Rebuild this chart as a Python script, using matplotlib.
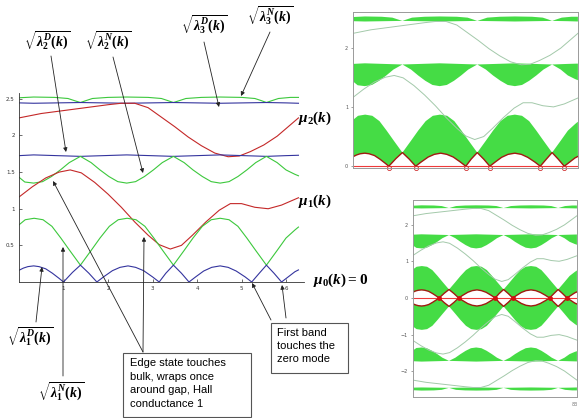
# band structure of the strip, edge states and bulk bands
import numpy as np
import matplotlib.pyplot as plt
from matplotlib.patches import Rectangle

plt.rcParams['mathtext.fontset'] = 'custom'
plt.rcParams['mathtext.it'] = 'Liberation Serif:italic:bold'
plt.rcParams['mathtext.rm'] = 'Liberation Serif:bold'
plt.rcParams['mathtext.bf'] = 'Liberation Serif:bold'

# sqrt(lambda_1^D(k)), lowest band, blue
k_d1 = [0, 0.1, 0.2, 0.33, 0.45, 0.6, 0.75, 0.9, 1.0, 1.2, 1.38, 1.57, 1.75, 1.9, 2.1, 2.27, 2.45, 2.62, 2.8, 3.0,
        3.15, 3.3, 3.47, 3.65, 3.82, 3.97, 4.15, 4.33, 4.52, 4.7, 4.88, 5.08, 5.23, 5.4, 5.56, 5.73, 5.9, 6.05, 6.2, 6.28]
d1 = [0.16, 0.19, 0.21, 0.22, 0.21, 0.18, 0.12, 0.05, 0.0, 0.13, 0.23, 0.12, 0.0, 0.07, 0.155, 0.2, 0.22, 0.2, 0.155, 0.07,
      0.0, 0.12, 0.23, 0.12, 0.0, 0.07, 0.15, 0.2, 0.22, 0.2, 0.15, 0.07, 0.0, 0.12, 0.23, 0.12, 0.0, 0.07, 0.14, 0.165]

# sqrt(lambda_1^N(k)), green
k_n1 = [0, 0.14, 0.34, 0.54, 0.74, 0.94, 1.14, 1.38, 1.62, 1.82, 2.03, 2.23, 2.43, 2.63, 2.83, 3.03,
        3.23, 3.47, 3.71, 3.91, 4.12, 4.32, 4.52, 4.72, 4.92, 5.12, 5.32, 5.56, 5.8, 6.0, 6.2, 6.28]
n1 = [0.78, 0.85, 0.87, 0.85, 0.76, 0.6, 0.43, 0.23, 0.43, 0.6, 0.76, 0.85, 0.87, 0.85, 0.76, 0.6,
      0.43, 0.23, 0.43, 0.6, 0.76, 0.85, 0.87, 0.85, 0.76, 0.6, 0.43, 0.23, 0.43, 0.6, 0.71, 0.75]

# sqrt(lambda_2^N(k)), green
k_n2 = [0, 0.13, 0.33, 0.53, 0.73, 0.93, 1.13, 1.38, 1.62, 1.82, 2.02, 2.22, 2.42, 2.62, 2.82, 3.02,
        3.22, 3.47, 3.71, 3.91, 4.12, 4.32, 4.52, 4.72, 4.92, 5.12, 5.32, 5.56, 5.8, 6.0, 6.2, 6.28]
n2 = [1.43, 1.365, 1.35, 1.37, 1.44, 1.53, 1.63, 1.715, 1.63, 1.53, 1.44, 1.37, 1.35, 1.37, 1.44, 1.53,
      1.63, 1.715, 1.63, 1.53, 1.44, 1.37, 1.35, 1.37, 1.44, 1.53, 1.63, 1.715, 1.63, 1.53, 1.47, 1.45]

# sqrt(lambda_2^D(k)), blue
k_d2 = [0, 0.33, 0.85, 1.38, 1.9, 2.42, 2.95, 3.47, 4.0, 4.52, 5.04, 5.56, 6.0, 6.28]
d2 = [1.725, 1.735, 1.725, 1.715, 1.725, 1.735, 1.725, 1.715, 1.725, 1.735, 1.725, 1.715, 1.725, 1.73]

# sqrt(lambda_3^D(k)), blue
k_d3 = [0, 0.33, 0.85, 1.38, 1.9, 2.42, 2.95, 3.47, 4.0, 4.52, 5.04, 5.56, 6.0, 6.28]
d3 = [2.445, 2.44, 2.445, 2.45, 2.445, 2.44, 2.445, 2.45, 2.445, 2.44, 2.445, 2.45, 2.445, 2.44]

# sqrt(lambda_3^N(k)), green
k_n3 = [0, 0.33, 0.8, 1.1, 1.25, 1.38, 1.5, 1.65, 2.0, 2.42, 2.9, 3.2, 3.35, 3.47, 3.6, 3.75,
        4.1, 4.52, 5.0, 5.3, 5.45, 5.56, 5.68, 5.83, 6.1, 6.28]
n3 = [2.515, 2.525, 2.52, 2.505, 2.475, 2.45, 2.475, 2.505, 2.52, 2.525, 2.52, 2.505, 2.475, 2.45, 2.475, 2.505,
      2.52, 2.525, 2.52, 2.505, 2.475, 2.45, 2.475, 2.505, 2.52, 2.52]

# edge states mu_1(k), mu_2(k), red
k_mu1 = [0, 0.3, 0.6, 0.9, 1.15, 1.4, 1.7, 2.0, 2.3, 2.6, 2.9, 3.15, 3.4, 3.65, 3.9, 4.2, 4.5, 4.75,
         5.0, 5.3, 5.6, 5.9, 6.28]
mu1 = [1.16, 1.30, 1.42, 1.50, 1.53, 1.49, 1.36, 1.20, 1.02, 0.82, 0.64, 0.51, 0.45, 0.50, 0.64, 0.82, 0.98, 1.07,
       1.07, 1.02, 1.00, 1.05, 1.15]
k_mu2 = [0, 0.5, 1.0, 1.5, 2.0, 2.3, 2.6, 2.9, 3.2, 3.5, 3.8, 4.1, 4.4, 4.7, 4.95, 5.2, 5.5, 5.8, 6.05, 6.28]
mu2 = [2.24, 2.30, 2.34, 2.38, 2.42, 2.44, 2.44, 2.38, 2.25, 2.12, 1.98, 1.86, 1.76, 1.71, 1.72, 1.78, 1.87, 1.99,
       2.12, 2.24]

x_ticks = [1, 2, 3, 4, 5, 6]
y_ticks = [0.5, 1, 1.5, 2, 2.5]
y_tick_labels = ['0.5', '1', '1.5', '2', '2.5']

W, H = 579, 418
green = '#3cc83c'
blue = '#34349e'
red = '#c42828'
fillc = '#45dc45'
edgec = '#a3c9aa'


def fp(x, y):
    return (x / W, 1 - y / H)


def rect(l, t, r, b):
    return [l / W, 1 - b / H, (r - l) / W, (b - t) / H]


fig = plt.figure(figsize=(5.79, 4.18), dpi=100)

# main plot
ax = fig.add_axes(rect(19, 93, 19 + 6.4 * 44.5, 282))
ax.plot(k_n3, n3, color=green, lw=0.8)
ax.plot(k_d3, d3, color=blue, lw=0.8)
ax.plot(k_mu2, mu2, color=red, lw=0.8)
ax.plot(k_d2, d2, color=blue, lw=0.8)
ax.plot(k_n2, n2, color=green, lw=0.8)
ax.plot(k_mu1, mu1, color=red, lw=0.8)
ax.plot(k_n1, n1, color=green, lw=0.8)
ax.plot(k_d1, d1, color=blue, lw=0.8)
ax.set_xlim(0, 6.4)
ax.set_ylim(0, 2.58)
for s in ['top', 'right']:
    ax.spines[s].set_visible(False)
for s in ['left', 'bottom']:
    ax.spines[s].set_linewidth(0.6)
    ax.spines[s].set_color('#333333')
ax.set_xticks(x_ticks)
ax.set_yticks(y_ticks)
ax.set_yticklabels(y_tick_labels)
ax.tick_params(labelsize=4, length=2, width=0.5, direction='in', pad=3, colors='#333333')
ax.patch.set_alpha(0)


def panel(r, ylim, yt, mirror):
    a = fig.add_axes(r)
    signs = [1, -1] if mirror else [1]
    for sg in signs:
        for ka, va, kb, vb in [(k_d1, d1, k_n1, n1), (k_n2, n2, k_d2, d2), (k_d3, d3, k_n3, n3)]:
            a.fill(np.concatenate([ka, kb[::-1]]), sg * np.concatenate([va, vb[::-1]]), color=fillc, lw=0)
        a.plot(k_mu1, sg * np.array(mu1), color=edgec, lw=0.7)
        a.plot(k_mu2, sg * np.array(mu2), color=edgec, lw=0.7)
        a.plot(k_d1, sg * np.array(d1), color='#a01a10', lw=1.0)
    a.axhline(0, color='#ee3a3a', lw=0.8)
    kz = np.array(k_d1)[np.array(d1) == 0]
    if mirror:
        a.plot(kz, np.zeros(len(kz)), 'o', ms=2.5, color='#d01010')
    else:
        a.plot(kz, np.zeros(len(kz)) - 0.03, 'o', ms=3, mfc='none', mec='#d03030', mew=0.6, clip_on=False)
    a.set_xlim(0, 2 * np.pi)
    a.set_ylim(*ylim)
    a.set_xticks([])
    a.set_yticks(yt)
    a.tick_params(labelsize=3.5, length=1.5, width=0.4, pad=2, colors='#555555')
    for s in a.spines.values():
        s.set_color('#9a9a9a')
        s.set_linewidth(0.7)
    return a


panel(rect(353, 12, 578, 168), (-0.03, 2.6), [0, 1, 2], False)
panel(rect(413, 200, 577, 397), (-2.7, 2.67), [-2, -1, 0, 1, 2], True)
fig.text(575 / W, 1 - 404 / H, '83', fontsize=3.5, color='#777777', ha='center', va='center')

# labels
lab = dict(fontsize=10, ha='center', va='center')
fig.text(*fp(47, 41), r'$\sqrt{\lambda_2^D(k)}$', **lab)
fig.text(*fp(108, 41), r'$\sqrt{\lambda_2^N(k)}$', **lab)
fig.text(*fp(204, 25), r'$\sqrt{\lambda_3^D(k)}$', **lab)
fig.text(*fp(270, 16), r'$\sqrt{\lambda_3^N(k)}$', **lab)
fig.text(*fp(30, 337), r'$\sqrt{\lambda_1^D(k)}$', **lab)
fig.text(*fp(61, 392), r'$\sqrt{\lambda_1^N(k)}$', **lab)
fig.text(*fp(298, 118), r'$\mu_2(k)$', fontsize=11, ha='left', va='center')
fig.text(*fp(298, 201), r'$\mu_1(k)$', fontsize=11, ha='left', va='center')
fig.text(*fp(313, 280), r'$\mu_0(k)=0$', fontsize=11, ha='left', va='center')

# arrows
arrows = [((51, 56), (66, 152)), ((113, 57), (143, 173)), ((204, 42), (219, 107)), ((270, 32), (241, 96)),
          ((143, 352), (53, 181)), ((143, 352), (144, 237)), ((36, 322), (42, 267)), ((63, 376), (63, 247)),
          ((271, 320), (252, 283)), ((286, 318), (282, 285))]
for (x0, y0), (x1, y1) in arrows:
    fig.add_artist(plt.Annotation('', xy=fp(x1, y1), xytext=fp(x0, y0), xycoords='figure fraction',
                                  textcoords='figure fraction',
                                  arrowprops=dict(arrowstyle='-|>', lw=0.6, color='#222222',
                                                  mutation_scale=6, shrinkA=0, shrinkB=0)))

# text boxes
for l, t, r, b in [(123, 353, 251, 417), (271, 323, 348, 373)]:
    fig.add_artist(Rectangle((l / W, 1 - b / H), (r - l) / W, (b - t) / H, transform=fig.transFigure,
                             facecolor='white', edgecolor='#555555', lw=0.8))
fig.text(*fp(130, 358), 'Edge state touches\nbulk, wraps once\naround gap, Hall\nconductance 1',
         fontsize=8, family='Liberation Sans', va='top', ha='left', linespacing=1.45)
fig.text(*fp(277, 328), 'First band\ntouches the\nzero mode',
         fontsize=8, family='Liberation Sans', va='top', ha='left', linespacing=1.4)

fig.savefig('out.png', dpi=100)
